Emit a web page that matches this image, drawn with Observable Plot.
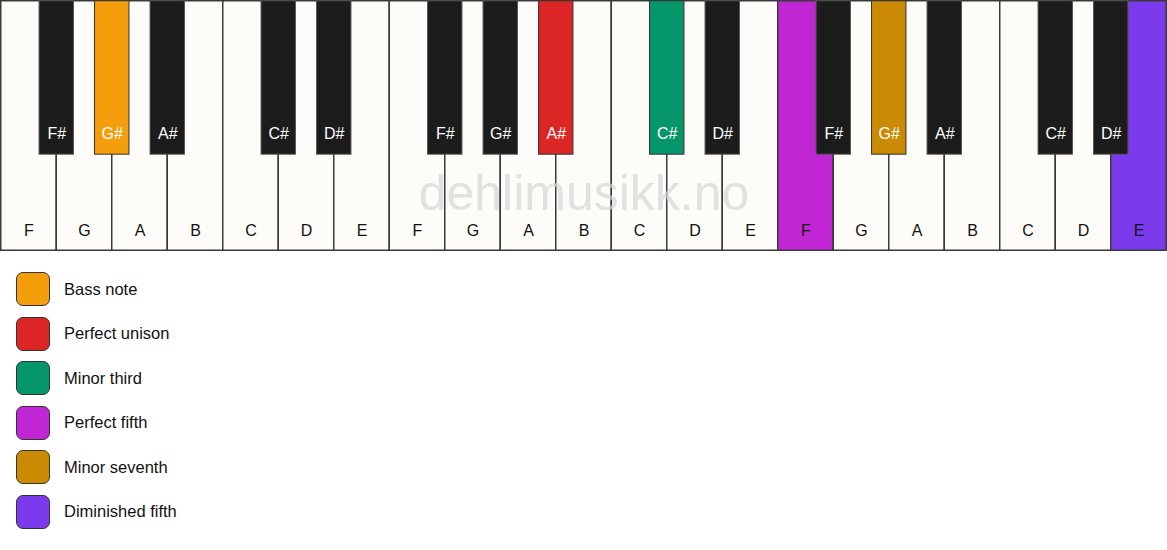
<!DOCTYPE html>
<html>
<head>
<meta charset="utf-8">
<script src="https://cdn.jsdelivr.net/npm/d3@7"></script>
<script src="https://cdn.jsdelivr.net/npm/@observablehq/plot@0.6"></script>
<style>
  html, body { margin: 0; padding: 0; background: #ffffff; }
  body { font-family: "Liberation Sans", Arial, sans-serif; }
  #chart svg { display: block; }
  #legend { padding: 21px 0 0 16px; }
  .row { display: flex; align-items: center; height: 34px; margin-bottom: 10.5px; }
  .sw { width: 32px; height: 32px; border: 1.5px solid #333; border-radius: 7px; box-sizing: content-box; }
  .lb { margin-left: 14px; font-size: 16.5px; color: #111; }
</style>
</head>
<body>
<div id="chart"></div>
<div id="legend"></div>
<script>
// ---- data ----
const octaveWhiteNotes = ["F", "G", "A", "B", "C", "D", "E"];
const sharpAfter = ["F", "G", "A", "C", "D"];
const octaveCount = 3;
const highlightNotes = ["G#", "A#", "C#", "F", "G#", "E"];
const highlightOctaves = [1, 2, 2, 3, 3, 3];
const roles = ["Bass note", "Perfect unison", "Minor third", "Perfect fifth", "Minor seventh", "Diminished fifth"];
const roleColors = ["#f59e0b", "#dc2626", "#059669", "#c026d3", "#ca8a04", "#7c3aed"];
const watermark = "dehlimusikk.no";

// ---- build key tables ----
function colorFor(note, octave) {
  for (let k = 0; k < highlightNotes.length; k++) {
    if (highlightNotes[k] === note && highlightOctaves[k] === octave) return roleColors[k];
  }
  return null;
}
const whiteKeys = [];
const blackKeys = [];
for (let o = 0; o < octaveCount; o++) {
  octaveWhiteNotes.forEach((n, j) => {
    const idx = o * 7 + j;
    whiteKeys.push({idx, note: n, octave: o + 1, color: colorFor(n, o + 1)});
    if (sharpAfter.includes(n)) {
      const s = n + "#";
      blackKeys.push({idx: idx + 1, note: s, octave: o + 1, color: colorFor(s, o + 1)});
    }
  });
}
const nWhite = whiteKeys.length;
const blackW = 0.31;   // half-width in white-key units
const blackH = 0.615;  // fraction of key height

const plot = Plot.plot({
  width: 1167,
  height: 251,
  margin: 0,
  x: {domain: [0, nWhite], range: [0.75, 1166.25], axis: null},
  y: {domain: [0, 1], range: [0.75, 250.25], axis: null},
  style: {background: "#ffffff", fontFamily: "'Liberation Sans', Arial, sans-serif"},
  marks: [
    Plot.rect(whiteKeys, {
      x1: d => d.idx, x2: d => d.idx + 1, y1: 0, y2: 1,
      fill: d => d.color || "#fdfcf8", stroke: "#3a3a3a", strokeWidth: 1.5
    }),
    Plot.text([watermark], {
      frameAnchor: "middle", dy: 68, dx: 0, fontSize: 50,
      fill: "#d6d6d6", fillOpacity: 0.7, letterSpacing: 1
    }),
    Plot.text(whiteKeys, {
      x: d => d.idx + 0.5, y: 0.922, text: "note", fontSize: 16, fill: "#111"
    }),
    Plot.rect(blackKeys, {
      x1: d => d.idx - blackW, x2: d => d.idx + blackW, y1: 0, y2: blackH,
      fill: d => d.color || "#1c1c1c",
      stroke: d => d.color ? "#333" : "#555", strokeWidth: 1
    }),
    Plot.text(blackKeys, {
      x: "idx", y: 0.532, text: "note", fontSize: 16, fill: "#ffffff"
    })
  ]
});
document.getElementById("chart").appendChild(plot);

const legend = document.getElementById("legend");
roles.forEach((r, i) => {
  const row = document.createElement("div");
  row.className = "row";
  const sw = document.createElement("div");
  sw.className = "sw";
  sw.style.background = roleColors[i];
  const lb = document.createElement("div");
  lb.className = "lb";
  lb.textContent = r;
  row.appendChild(sw);
  row.appendChild(lb);
  legend.appendChild(row);
});
</script>
</body>
</html>
